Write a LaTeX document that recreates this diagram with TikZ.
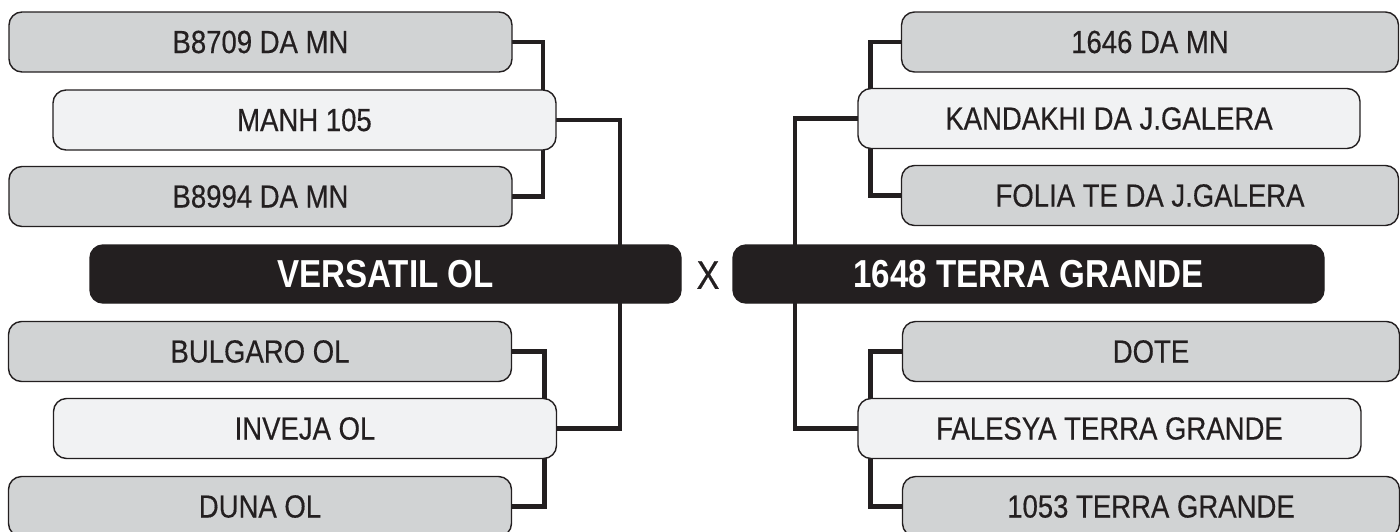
\documentclass[tikz,border=0pt]{standalone}
\usepackage{fontspec}
\setmainfont{Liberation Sans}[FakeStretch=0.85]
\newfontfamily\entryfont{Liberation Sans}[FakeStretch=0.86, FakeBold=0.4]
\usetikzlibrary{backgrounds}
\definecolor{ink}{HTML}{231F20}
\definecolor{boxgray}{HTML}{D1D3D4}
\definecolor{boxlight}{HTML}{F1F2F3}
\begin{document}
\begin{tikzpicture}[x=1pt,y=-1pt,
  every node/.style={inner sep=0pt, outer sep=0pt},
  entry/.style={draw=ink, line width=1.4pt, rounded corners=13pt,
    minimum width=503pt, minimum height=60pt,
    font=\entryfont\fontsize{32}{36}\selectfont, text=ink},
  grayentry/.style={entry, fill=boxgray},
  lightentry/.style={entry, fill=boxlight},
  finalist/.style={draw=ink, fill=ink, line width=1.4pt, rounded corners=13pt,
    minimum width=591pt, minimum height=58pt, text=white,
    font=\fontsize{39}{44}\selectfont\bfseries},
  conn/.style={draw=ink, line width=4.8pt, line join=miter}]
\path[use as bounding box] (0,0) rectangle (1400,531);
\clip (0,0) rectangle (1400,531);
% left side
\node[grayentry]  (L1) at (260.5,42)  {B8709 DA MN};
\node[lightentry] (L2) at (304.5,120) {MANH 105};
\node[grayentry]  (L3) at (260.5,196.5) {B8994 DA MN};
\node[finalist]   (LM) at (385.5,274) {VERSATIL OL};
\node[grayentry]  (L4) at (260,351.5) {BULGARO OL};
\node[lightentry] (L5) at (305,428.5) {INVEJA OL};
\node[grayentry]  (L6) at (260,506.5) {DUNA OL};
% right side
\node[grayentry, minimum width=497pt]  (R1) at (1150,42)  {1646 DA MN};
\node[lightentry, minimum width=502pt] (R2) at (1109,118.5) {KANDAKHI DA J.GALERA};
\node[grayentry, minimum width=497pt]  (R3) at (1150,195.5) {FOLIA TE DA J.GALERA};
\node[finalist]   (RM) at (1028.5,274) {1648 TERRA GRANDE};
\node[grayentry, minimum width=497pt]  (R4) at (1151,351.5) {DOTE};
\node[lightentry, minimum width=503pt] (R5) at (1109.5,428.5) {FALESYA TERRA GRANDE};
\node[grayentry, minimum width=497pt]  (R6) at (1151,506.5) {1053 TERRA GRANDE};
% versus
\node[font=\entryfont\fontsize{40}{44}\selectfont, text=ink] (vs) at (708,275) {X};
\begin{scope}[on background layer]
  \draw[conn] (L1.east) -- ++(31,0) |- (L3.east);
  \draw[conn] (L4.east) -- ++(33,0) |- (L6.east);
  \draw[conn] (L2.east) -- ++(64,0) |- (L5.east);
  \draw[conn] (R1.west) -- ++(-31,0) |- (R3.west);
  \draw[conn] (R4.west) -- ++(-32,0) |- (R6.west);
  \draw[conn] (R2.west) -- ++(-63,0) |- (R5.west);
\end{scope}
\end{tikzpicture}
\end{document}
